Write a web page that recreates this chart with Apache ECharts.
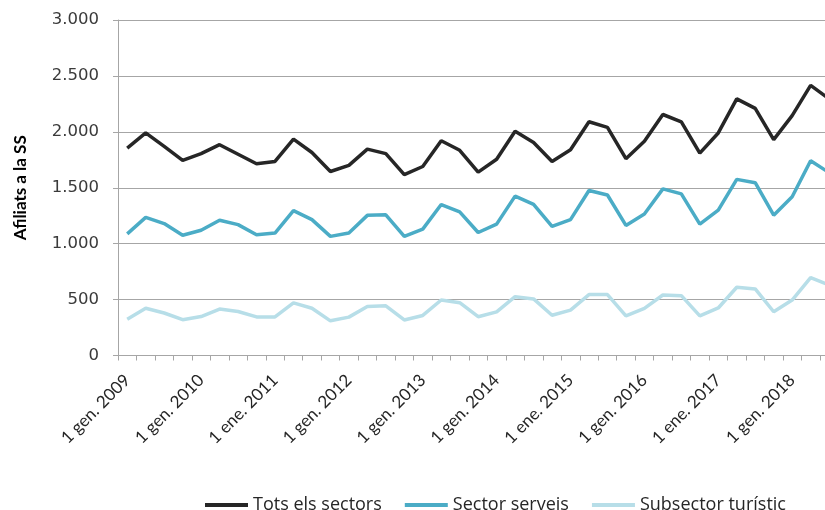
<!DOCTYPE html>
<html>
<head>
<meta charset="utf-8">
<script src="https://cdn.jsdelivr.net/npm/echarts@6/dist/echarts.min.js"></script>
<style>
html,body{margin:0;padding:0;background:#fff;}
#chart{width:825px;height:510px;}
</style>
</head>
<body>
<div id="chart"></div>
<script>
var categories = [
  "1 gen. 2009","1 abr. 2009","1 jul. 2009","1 oct. 2009",
  "1 gen. 2010","1 abr. 2010","1 jul. 2010","1 oct. 2010",
  "1 ene. 2011","1 abr. 2011","1 jul. 2011","1 oct. 2011",
  "1 gen. 2012","1 abr. 2012","1 jul. 2012","1 oct. 2012",
  "1 gen. 2013","1 abr. 2013","1 jul. 2013","1 oct. 2013",
  "1 gen. 2014","1 abr. 2014","1 jul. 2014","1 oct. 2014",
  "1 ene. 2015","1 abr. 2015","1 jul. 2015","1 oct. 2015",
  "1 gen. 2016","1 abr. 2016","1 jul. 2016","1 oct. 2016",
  "1 ene. 2017","1 abr. 2017","1 jul. 2017","1 oct. 2017",
  "1 gen. 2018","1 abr. 2018","1 jul. 2018"
];
var seriesNames = ["Tots els sectors","Sector serveis","Subsector turístic"];
var totsSectors = [1855,1990,1870,1745,1805,1885,1800,1715,1735,1935,1815,1645,1700,1845,1805,1618,
  1690,1920,1835,1640,1755,2005,1905,1735,1840,2090,2040,1760,1915,2155,2090,1810,1990,2295,2210,1930,2145,2415,2295];
var sectorServeis = [1088,1235,1180,1075,1120,1210,1170,1080,1095,1295,1215,1065,1095,1253,1258,1065,
  1130,1350,1285,1100,1175,1425,1352,1155,1215,1475,1435,1163,1266,1490,1445,1175,1300,1575,1545,1255,1420,1742,1635];
var subsectorTuristic = [325,423,380,320,348,415,393,345,345,470,423,310,343,438,444,318,
  358,496,472,347,390,526,506,360,406,545,545,354,421,541,535,354,425,610,595,391,496,696,630];
var yTicks = {min:0, max:3000, interval:500};

var chart = echarts.init(document.getElementById('chart'), null, {renderer:'canvas'});
var gridColor = '#a6a6a6';
var option = {
  animation:false,
  backgroundColor:'#ffffff',
  grid:{left:118, top:20, width:categories.length*18.47, height:335.5, containLabel:false, outerBoundsMode:'none'},
  legend:{
    left:200, top:491, icon:'rect', itemWidth:43, itemHeight:4, itemGap:23,
    textStyle:{fontFamily:'Open Sans', fontSize:18, color:'#262626', padding:[0,0,0,0]},
    data:seriesNames
  },
  xAxis:{
    type:'category', data:categories, boundaryGap:true,
    axisLine:{lineStyle:{color:gridColor, width:1}},
    axisTick:{show:true, interval:0, length:5, lineStyle:{color:gridColor}},
    axisLabel:{interval:3, rotate:45, margin:22, fontFamily:'Lato', fontSize:17, color:'#262626'},
    splitLine:{show:false}
  },
  yAxis:{
    type:'value', min:yTicks.min, max:yTicks.max, interval:yTicks.interval,
    name:'Afiliats a la SS', nameLocation:'middle', nameGap:89, nameRotate:90,
    nameTextStyle:{fontFamily:'Lato', fontWeight:'bold', fontSize:17, color:'#000'},
    axisLine:{show:true, lineStyle:{color:gridColor, width:1}},
    axisTick:{show:true, length:5, lineStyle:{color:gridColor}},
    axisLabel:{margin:19, fontFamily:'DejaVu Sans', fontSize:16.5, color:'#3a3a3a',
      formatter:function(v){return String(v).replace(/\B(?=(\d{3})+(?!\d))/g,'.');}},
    splitLine:{show:true, lineStyle:{color:gridColor, width:1}}
  },
  series:[
    {name:seriesNames[0], type:'line', data:totsSectors, symbol:'none', lineStyle:{color:'#262626', width:3.5}, itemStyle:{color:'#262626'}},
    {name:seriesNames[1], type:'line', data:sectorServeis, symbol:'none', lineStyle:{color:'#4BACC6', width:3.5}, itemStyle:{color:'#4BACC6'}},
    {name:seriesNames[2], type:'line', data:subsectorTuristic, symbol:'none', lineStyle:{color:'#B7DEE8', width:3.5}, itemStyle:{color:'#B7DEE8'}}
  ]
};
chart.setOption(option);
</script>
</body>
</html>
